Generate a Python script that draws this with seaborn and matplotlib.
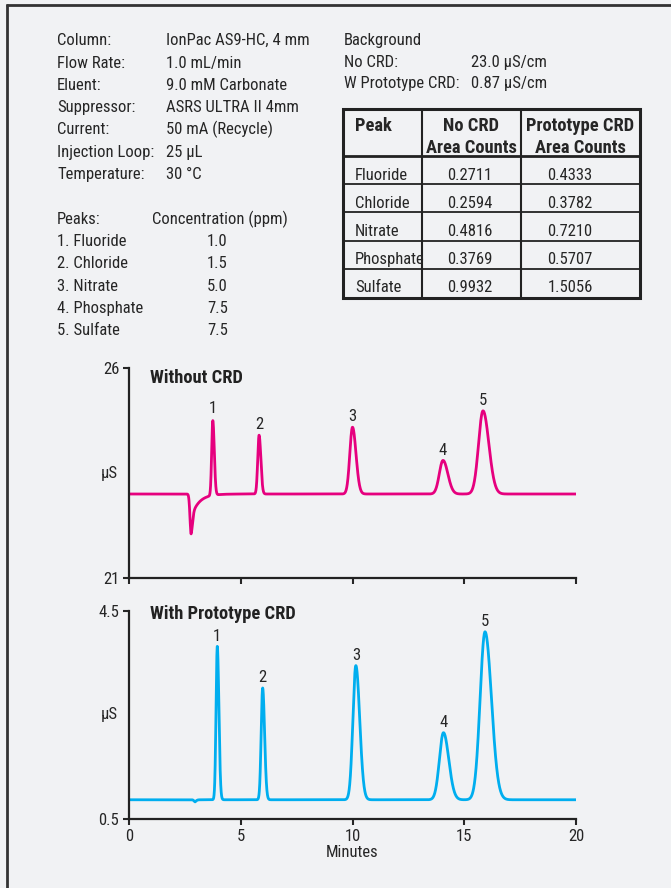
import numpy as np
import pandas as pd
import matplotlib
matplotlib.use("Agg")
import matplotlib.pyplot as plt
import seaborn as sns

# ---------------- run conditions ----------------
cond_labels = ["Column:", "Flow Rate:", "Eluent:", "Suppressor:", "Current:",
               "Injection Loop:", "Temperature:"]
cond_values = ["IonPac AS9-HC, 4 mm", "1.0 mL/min", "9.0 mM Carbonate",
               "ASRS ULTRA II 4mm", "50 mA (Recycle)", "25 µL", "30 °C"]

peak_names = ["Fluoride", "Chloride", "Nitrate", "Phosphate", "Sulfate"]
concentrations = ["1.0", "1.5", "5.0", "7.5", "7.5"]

background_labels = ["No CRD:", "W Prototype CRD:"]
background_values = [23.0, 0.87]          # µS/cm

area_no_crd = ["0.2711", "0.2594", "0.4816", "0.3769", "0.9932"]
area_crd = ["0.4333", "0.3782", "0.7210", "0.5707", "1.5056"]

# ---------------- chromatogram peaks ----------------
rt_no_crd = [3.75, 5.82, 10.0, 14.05, 15.84]      # min
ht_no_crd = [1.78, 1.40, 1.59, 0.80, 1.98]        # µS above baseline
rt_crd = [3.95, 5.98, 10.15, 14.07, 15.93]
ht_crd = [2.95, 2.15, 2.58, 1.29, 3.23]
peak_sigma = [0.050, 0.060, 0.120, 0.165, 0.200]  # min
peak_tailing = 1.3

# water dip (time, depth, sigma, tail length)
dip_no_crd = (2.78, 0.95, 0.05, 0.34)
dip_crd = (2.96, 0.04, 0.05, 0.05)

MAGENTA = "#e6007e"
CYAN = "#00aeef"
INK = "#262626"
BG = "#f1f2f4"


def chromatogram(t, base, rts, hts, sigmas, dip):
    y = np.full_like(t, base)
    for rt, h, s in zip(rts, hts, sigmas):
        sd = np.where(t < rt, s, s * peak_tailing)
        y += h * np.exp(-0.5 * ((t - rt) / sd) ** 2)
    d_t, d_depth, d_s, d_tau = dip
    left = np.exp(-0.5 * ((t - d_t) / d_s) ** 2)
    sharp = np.exp(-0.5 * ((t - d_t) / (d_s * 1.2)) ** 2)
    tail = np.exp(-np.clip(t - d_t, 0, None) / d_tau)
    right = 0.41 * sharp + 0.59 * tail
    y -= d_depth * np.where(t < d_t, left, right)
    return y


minutes = np.linspace(0, 20, 4001)
df = pd.DataFrame({
    "Minutes": minutes,
    "no_crd": chromatogram(minutes, background_values[0], rt_no_crd, ht_no_crd,
                           peak_sigma, dip_no_crd),
    "crd": chromatogram(minutes, background_values[1], rt_crd, ht_crd,
                        [s * 1.1 for s in peak_sigma], dip_crd),
})

sns.set_theme(style="ticks")
plt.rcParams["font.family"] = ["Roboto Condensed", "DejaVu Sans"]
plt.rcParams["text.color"] = INK
plt.rcParams["axes.labelcolor"] = INK
plt.rcParams["xtick.color"] = INK
plt.rcParams["ytick.color"] = INK

W, H = 671, 888
fig = plt.figure(figsize=(W / 100, H / 100), dpi=100, facecolor=BG)

# ---------------- page layer (pixel coordinates) ----------------
lay = fig.add_axes([0, 0, 1, 1])
lay.set_xlim(0, W)
lay.set_ylim(H, 0)
lay.axis("off")
lay.patch.set_alpha(0)

FS = 12.0
FSB = 13.3
lay.plot([6, W], [5, 5], color="#333333", lw=2.0, solid_capstyle="butt")
lay.plot([7, 7], [4, H], color="#333333", lw=2.0, solid_capstyle="butt")

for i, (lab, val) in enumerate(zip(cond_labels, cond_values)):
    y = 45.3 + i * 22.24
    lay.text(57, y, lab, va="baseline", fontsize=FS)
    lay.text(166, y, val, va="baseline", fontsize=FS)

lay.text(57, 223.7, "Peaks:", va="baseline", fontsize=FS)
lay.text(152.3, 223.7, "Concentration (ppm)", va="baseline", fontsize=FS)
for i, (name, c) in enumerate(zip(peak_names, concentrations)):
    y = 246 + i * 22.33
    lay.text(57, y, f"{i + 1}. {name}", va="baseline", fontsize=FS)
    lay.text(217.5, y, c, va="baseline", ha="center", fontsize=FS)


def fmt_bg(v):
    s = f"{v:.2f}"
    return s[:-1] if s.endswith("0") else s


lay.text(344, 45, "Background", va="baseline", fontsize=FS)
for i, (lab, v) in enumerate(zip(background_labels, background_values)):
    y = 66.7 + i * 21.6
    lay.text(344, y, lab, va="baseline", fontsize=FS)
    lay.text(470.7, y, f"{fmt_bg(v)} µS/cm", va="baseline", fontsize=FS)

# area-count table
xe = [342.7, 422.3, 521.0, 640.0]
ye = [109.3, 155.7, 184.0, 212.3, 240.7, 268.7, 297.7]
for x in xe[1:-1]:
    lay.plot([x, x], [ye[0], ye[-1]], color="#222222", lw=1.5, solid_capstyle="butt")
for j, y in enumerate(ye[1:-1]):
    lay.plot([xe[0], xe[-1]], [y, y], color="#222222", lw=2.0 if j == 0 else 1.3,
             solid_capstyle="butt")
lay.add_patch(plt.Rectangle((xe[0], ye[0]), xe[-1] - xe[0], ye[-1] - ye[0],
                            fill=False, edgecolor="#222222", lw=2.2))

lay.text(355, 130.7, "Peak", va="baseline", fontsize=FSB, fontweight="bold")
lay.text(471, 130.7, "No CRD", va="baseline", ha="center", fontsize=FSB, fontweight="bold")
lay.text(471, 152.7, "Area Counts", va="baseline", ha="center", fontsize=FSB, fontweight="bold")
lay.text(580, 130.7, "Prototype CRD", va="baseline", ha="center", fontsize=FSB, fontweight="bold")
lay.text(580, 152.7, "Area Counts", va="baseline", ha="center", fontsize=FSB, fontweight="bold")
for i, (name, a1, a2) in enumerate(zip(peak_names, area_no_crd, area_crd)):
    y = 180 + i * 28.1
    lay.text(355, y, name, va="baseline", fontsize=FS)
    lay.text(470, y, a1, va="baseline", ha="center", fontsize=FS)
    lay.text(570, y, a2, va="baseline", ha="center", fontsize=FS)

# ---------------- chromatograms ----------------
left, width = 129 / W, 447 / W
ax1 = fig.add_axes([left, 1 - 578 / H, width, 210 / H])
ax2 = fig.add_axes([left, 1 - 819 / H, width, 208 / H])

panels = [
    (ax1, "no_crd", MAGENTA, (21, 26), "Without CRD", 0.952, rt_no_crd, background_values[0], ht_no_crd),
    (ax2, "crd", CYAN, (0.5, 4.5), "With Prototype CRD", 0.986, rt_crd, background_values[1], ht_crd),
]
for ax, col, color, ylim, title, ty, rts, base, hts in panels:
    ax.set_facecolor("none")
    sns.lineplot(data=df, x="Minutes", y=col, ax=ax, color=color, lw=2.0,
                 estimator=None, sort=False)
    ax.set_xlim(0, 20)
    ax.set_ylim(*ylim)
    ax.set_xticks([0, 5, 10, 15, 20])
    ax.set_yticks(list(ylim))
    ax.set_yticklabels([f"{v:g}" for v in ylim])
    sns.despine(ax=ax)
    for s in ("left", "bottom"):
        ax.spines[s].set_linewidth(1.6)
        ax.spines[s].set_color("#222222")
    ax.tick_params(direction="out", length=4.5, width=1.5, labelsize=FS, pad=2.5)
    ax.set_ylabel("")
    ax.text(-0.025, 0.5, "µS", transform=ax.transAxes, ha="right", va="center",
            fontsize=FS)
    ax.text(0.047, ty, title, transform=ax.transAxes, ha="left", va="center",
            fontsize=FSB, fontweight="bold", color="#222222")
    for n, (rt, h) in enumerate(zip(rts, hts), start=1):
        ax.annotate(str(n), xy=(rt, base + h), xytext=(0, 2),
                    textcoords="offset points", ha="center", va="bottom",
                    fontsize=FS)

ax1.tick_params(labelbottom=False)
ax1.set_xlabel("")
ax2.set_xlabel("Minutes", fontsize=FS, labelpad=1)

fig.savefig("out.png", dpi=100, facecolor=BG)
